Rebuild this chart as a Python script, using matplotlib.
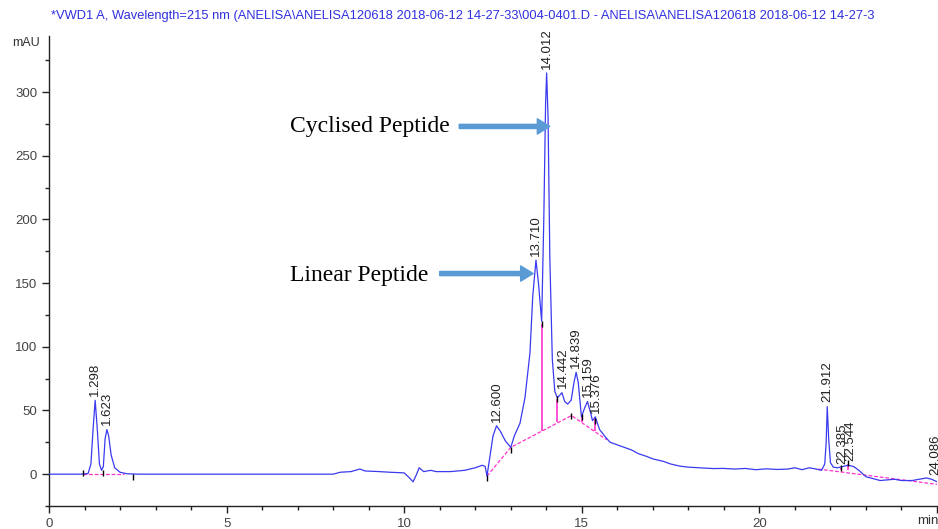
import matplotlib
matplotlib.use("Agg")
import matplotlib.pyplot as plt
from matplotlib.ticker import MultipleLocator

# ---- data ----
time_min = [0.0, 0.9, 1.1, 1.18, 1.24, 1.30, 1.36, 1.42, 1.48, 1.53, 1.58, 1.63, 1.68, 1.75, 1.85, 2.0, 2.2, 2.5,
            8.0, 8.2, 8.5, 8.75, 8.9, 9.3, 9.6, 10.0, 10.15, 10.25, 10.35, 10.42, 10.55, 10.75, 10.9, 11.3, 11.7,
            12.0, 12.2, 12.28, 12.33, 12.42, 12.5, 12.6, 12.7, 12.85, 13.0, 13.1, 13.26, 13.4, 13.54, 13.62, 13.71,
            13.78, 13.87, 13.93, 13.98, 14.01, 14.05, 14.1, 14.17, 14.24, 14.31, 14.38, 14.44, 14.52, 14.6, 14.7,
            14.78, 14.84, 14.9, 14.99, 15.08, 15.16, 15.25, 15.3, 15.38, 15.5, 15.7, 15.8, 16.0, 16.2, 16.4, 16.6,
            16.82, 17.0, 17.3, 17.5, 17.76, 18.0, 18.3, 18.7, 19.0, 19.3, 19.6, 19.9, 20.2, 20.5, 20.8, 21.0, 21.2,
            21.4, 21.6, 21.75, 21.84, 21.88, 21.91, 21.95, 22.0, 22.08, 22.2, 22.35, 22.5, 22.65, 22.8, 23.0, 23.4,
            23.8, 24.0, 24.3, 24.5, 24.7, 24.85, 25.0]
absorbance_mau = [0, 0, 0.5, 8, 35, 58, 35, 8, 3, 6, 28, 35, 30, 15, 5, 1.5, 0.3, 0,
                  0, 1.5, 2, 4, 2.5, 2, 1.5, 1, -3, -6, 0, 5, 2, 3, 2, 2, 3,
                  5, 7, 6, -1.5, 15, 30, 38, 34, 26, 21, 30, 40, 60, 95, 140, 168,
                  150, 120, 200, 290, 315, 280, 170, 90, 65, 60, 62, 64, 57, 55, 58,
                  72, 80, 72, 45, 52, 57, 48, 42, 45, 35, 28, 25, 23, 21, 19, 16,
                  14, 12, 10, 8, 6.3, 5.5, 5, 4.4, 4.5, 4, 4.5, 3.5, 4.2, 3.7, 4, 5, 3.5,
                  5, 4, 3, 8, 25, 53, 28, 9, 5.5, 5, 6, 7, 6, 3, -2, -5,
                  -4, -5, -5, -4, -3, -4, -6]

baseline_segments = [
    [(0.95, 0.0), (2.1, 0.0)],
    [(12.33, -1.5), (13.0, 21.0), (14.71, 46.0), (15.7, 27.0)],
    [(21.66, 4.0), (25.0, -8.0)],
]
drop_t = [13.87, 14.31, 15.0, 15.37, 22.3, 22.5]
drop_lo = [34, 41, 41, 34, 3, 3]
drop_hi = [118, 59, 45, 43, 5, 8]
tick_t = [0.95, 1.53, 2.37, 12.33, 13.02, 13.87, 14.31, 14.71, 15.0, 15.37, 22.3, 22.5]
tick_y = [1, 1, -2, -3, 19, 118, 59, 46, 45, 42, 5, 9]

peak_labels = ["1.298", "1.623", "12.600", "13.710", "14.012", "14.442", "14.839", "15.159", "15.376",
               "21.912", "22.385", "22.544", "24.086"]
peak_times = [1.30, 1.63, 12.60, 13.71, 14.01, 14.46, 14.84, 15.16, 15.40, 21.91, 22.33, 22.56, 24.95]
peak_tops = [58, 35, 38, 168, 315, 64, 80, 57, 45, 53, 5, 7, -4]

title = ("*VWD1 A, Wavelength=215 nm (ANELISA\\ANELISA120618 2018-06-12 14-27-33\\004-0401.D - "
         "ANELISA\\ANELISA120618 2018-06-12 14-27-3")

# ---- figure ----
fig = plt.figure(figsize=(9.38, 5.29), dpi=100)
ax = fig.add_axes([49 / 938, 1 - 506 / 529, (937 - 49) / 938, (506 - 36) / 529])
ax.set_xlim(0, 25)
ax.set_ylim(-25, 344)

ax.plot(time_min, absorbance_mau, color="#3a3af0", lw=0.9, zorder=3)
for seg in baseline_segments:
    ax.plot([p[0] for p in seg], [p[1] for p in seg], color="#ff33cc", lw=0.9, ls=(0, (3, 1.5)), zorder=2)
ax.vlines(drop_t, drop_lo, drop_hi, color="#ff33cc", lw=1.2, zorder=2)
ax.plot(tick_t, tick_y, ls="none", marker="|", color="black", ms=5, mew=1.0, zorder=4)

for lab, t, top in zip(peak_labels, peak_times, peak_tops):
    ax.annotate(lab, (t, top), xytext=(0, 3), textcoords="offset points", rotation=90,
                ha="center", va="bottom", fontsize=9.5, color="#222222", family="Liberation Sans",
                annotation_clip=False)

# annotations
arrow_color = "#5b9bd5"
ax.text(6.78, 273, "Cyclised Peptide", family="Liberation Serif", fontsize=17, va="center", ha="left",
        color="black")
ax.annotate("", xy=(14.1, 273), xytext=(11.55, 273),
            arrowprops=dict(width=3, headwidth=11, headlength=9, color=arrow_color, shrink=0))
ax.text(6.78, 156, "Linear Peptide", family="Liberation Serif", fontsize=17, va="center", ha="left",
        color="black")
ax.annotate("", xy=(13.63, 157.5), xytext=(11.0, 157.5),
            arrowprops=dict(width=3, headwidth=11, headlength=9, color=arrow_color, shrink=0))

# axes styling
for s in ["top", "right"]:
    ax.spines[s].set_visible(False)
for s in ["left", "bottom"]:
    ax.spines[s].set_linewidth(1.0)
    ax.spines[s].set_color("#222222")
ax.yaxis.set_major_locator(MultipleLocator(50))
ax.yaxis.set_minor_locator(MultipleLocator(25))
ax.xaxis.set_major_locator(MultipleLocator(5))
ax.xaxis.set_minor_locator(MultipleLocator(1))
ax.tick_params(axis="both", which="major", length=5, width=1, color="#222222", labelsize=9.5,
               labelcolor="#444444", direction="out")
ax.tick_params(axis="both", which="minor", length=3, width=1, color="#222222", direction="out")
ax.set_yticks([0, 50, 100, 150, 200, 250, 300])
ax.set_xticks([0, 5, 10, 15, 20, 25])
ax.set_xticklabels(["0", "5", "10", "15", "20", ""])
for lab in ax.get_xticklabels() + ax.get_yticklabels():
    lab.set_family("Liberation Sans")

fig.text(40 / 938, 1 - 43 / 529, "mAU", ha="right", va="center", fontsize=9, color="#333333",
         family="Liberation Sans")
fig.text(928 / 938, 1 - 521 / 529, "min", ha="center", va="center", fontsize=9.5, color="#333333",
         family="Liberation Sans")
fig.text(51 / 938, 1 - 16 / 529, title, ha="left", va="center", fontsize=9.3, color="#3030e0",
         family="Liberation Sans")

fig.savefig("out.png", dpi=100)
